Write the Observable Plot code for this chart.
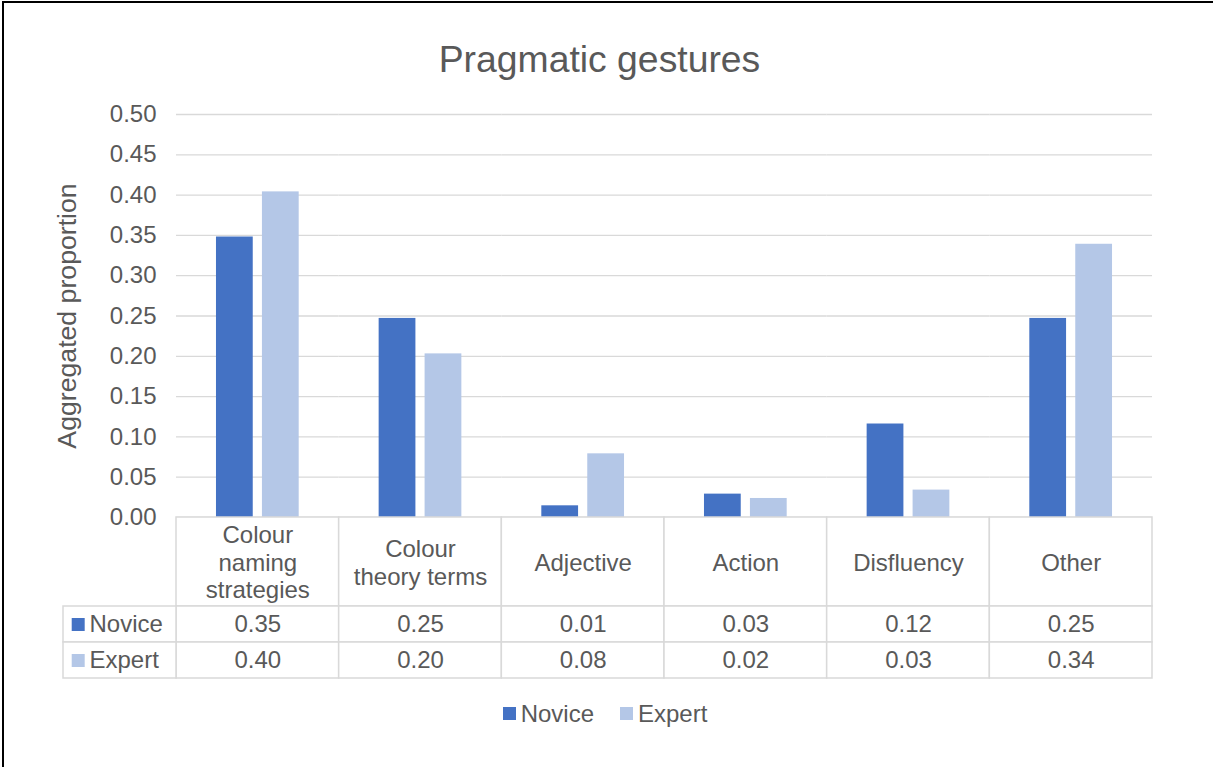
<!DOCTYPE html>
<html>
<head>
<meta charset="utf-8">
<script src="https://cdn.jsdelivr.net/npm/d3@7"></script>
<script src="https://cdn.jsdelivr.net/npm/@observablehq/plot@0.6"></script>
<style>
  html, body { margin: 0; padding: 0; background: #fff; overflow: hidden; }
  #chart {
    position: relative; width: 1213px; height: 767px; overflow: hidden;
    font-family: "Liberation Sans", Arial, sans-serif; color: #595959; background: #fff;
  }
  #edge {
    position: absolute; left: 2px; top: 1px; width: 1300px; height: 800px;
    border-top: 2px solid #000; border-left: 2px solid #000; pointer-events: none;
  }
  #title {
    position: absolute; left: 0; top: 41px; width: 1199px; text-align: center;
    font-size: 37.33px; line-height: 37.33px; color: #595959; white-space: nowrap;
  }
  #legend { position: absolute; left: 0; top: 697px; width: 1210px; }
  #legend .leg-swatches { justify-content: center; margin: 0 !important; }
  #legend .leg-swatch { margin-right: 26px !important; }
  #legend .leg-swatch:last-child { margin-right: 0 !important; }
  #legend .leg-swatch > svg { margin-right: 5px !important; }
</style>
</head>
<body>
<div id="chart">
  <div id="title">Pragmatic gestures</div>
</div>
<script>
// Proportions of pragmatic gestures per speech category
const categories = ["Colour naming strategies", "Colour theory terms", "Adjective", "Action", "Disfluency", "Other"];
const categoryLabels = ["Colour\nnaming\nstrategies", "Colour\ntheory terms", "Adjective", "Action", "Disfluency", "Other"];
const series = ["Novice", "Expert"];
const seriesColors = ["#4472C4", "#B4C7E7"];
const novice = [0.348, 0.247, 0.0145, 0.029, 0.116, 0.247];
const expert = [0.404, 0.203, 0.079, 0.0236, 0.034, 0.339];
const yTicks = [0, 0.05, 0.10, 0.15, 0.20, 0.25, 0.30, 0.35, 0.40, 0.45, 0.50];
const yLabel = "Aggregated proportion";

const rows = categories.flatMap((c, i) => [
  {category: c, series: "Novice", value: novice[i]},
  {category: c, series: "Expert", value: expert[i]}
]);

const textColor = "#595959";
const lineColor = "#D9D9D9";
const font = '"Liberation Sans", Arial, sans-serif';
const baseStyle = {fontFamily: font, fontSize: "24px", color: textColor, background: "transparent", overflow: "visible"};
const colorScale = {domain: series, range: seriesColors};
const fmt = d3.format(".2f");

const chart = document.getElementById("chart");
function place(el, left, top) {
  el.style.position = "absolute";
  el.style.left = left + "px";
  el.style.top = top + "px";
  chart.append(el);
}

// Bars, gridlines and value axis
const main = Plot.plot({
  width: 1213, height: 518,
  marginLeft: 176, marginRight: 61, marginTop: 114, marginBottom: 1,
  style: baseStyle,
  fx: {domain: categories, padding: 0, round: false, axis: null},
  x: {domain: series, paddingInner: 0.2, paddingOuter: 0.87, round: false, axis: null},
  y: {domain: [0, 0.5]},
  color: colorScale,
  marks: [
    Plot.gridY(yTicks, {stroke: lineColor, strokeOpacity: 1, strokeWidth: 1.3}),
    Plot.axisY(yTicks, {tickSize: 0, tickPadding: 20, tickFormat: fmt, label: null, fill: textColor, fontSize: 24}),
    Plot.barY(rows, {fx: "category", x: "series", y: "value", fill: "series"}),
    Plot.text([yLabel], {
      fx: [categories[0]], frameAnchor: "left", rotate: -90, dx: -119,
      textAnchor: "middle", lineAnchor: "top", fontSize: 26.67, fill: textColor
    })
  ]
});
place(main, 0, 0);

// Data table: category header row
const header = Plot.plot({
  width: 1213, height: 91,
  marginLeft: 176, marginRight: 61, marginTop: 1, marginBottom: 1,
  style: baseStyle,
  x: {domain: categories, padding: 0, round: false, axis: null},
  marks: [
    Plot.cell(categories, {x: d => d, fill: "white", stroke: lineColor, strokeWidth: 1.5}),
    Plot.text(categories, {x: d => d, text: (d, i) => categoryLabels[i], frameAnchor: "middle", lineHeight: 1.15, fontSize: 24, fill: textColor})
  ]
});
place(header, 0, 516);

// Data table: value rows
const values = Plot.plot({
  width: 1213, height: 74,
  marginLeft: 176, marginRight: 61, marginTop: 1, marginBottom: 1,
  style: baseStyle,
  x: {domain: categories, padding: 0, round: false, axis: null},
  y: {domain: series, padding: 0, round: false, axis: null},
  marks: [
    Plot.cell(rows, {x: "category", y: "series", fill: "white", stroke: lineColor, strokeWidth: 1.5}),
    Plot.text(rows, {x: "category", y: "series", text: d => fmt(d.value), fontSize: 24, fill: textColor})
  ]
});
place(values, 0, 605);

// Data table: legend keys column
const keys = Plot.plot({
  width: 115, height: 74,
  marginLeft: 1, marginRight: 1, marginTop: 1, marginBottom: 1,
  style: baseStyle,
  y: {domain: series, padding: 0, round: false, axis: null},
  color: colorScale,
  marks: [
    Plot.cell(series, {y: d => d, fill: "white", stroke: lineColor, strokeWidth: 1.5}),
    Plot.dot(series, {y: d => d, frameAnchor: "left", dx: 14.7, symbol: "square", r: 7.33, fill: d => d}),
    Plot.text(series, {y: d => d, frameAnchor: "left", dx: 26, textAnchor: "start", fontSize: 24, fill: textColor})
  ]
});
place(keys, 62, 605);

// Series legend
const legendWrap = document.createElement("div");
legendWrap.id = "legend";
legendWrap.append(Plot.legend({
  color: colorScale,
  swatchSize: 13,
  className: "leg",
  style: {fontFamily: font, fontSize: "24px", color: textColor}
}));
chart.append(legendWrap);

const edge = document.createElement("div");
edge.id = "edge";
chart.append(edge);
</script>
</body>
</html>
